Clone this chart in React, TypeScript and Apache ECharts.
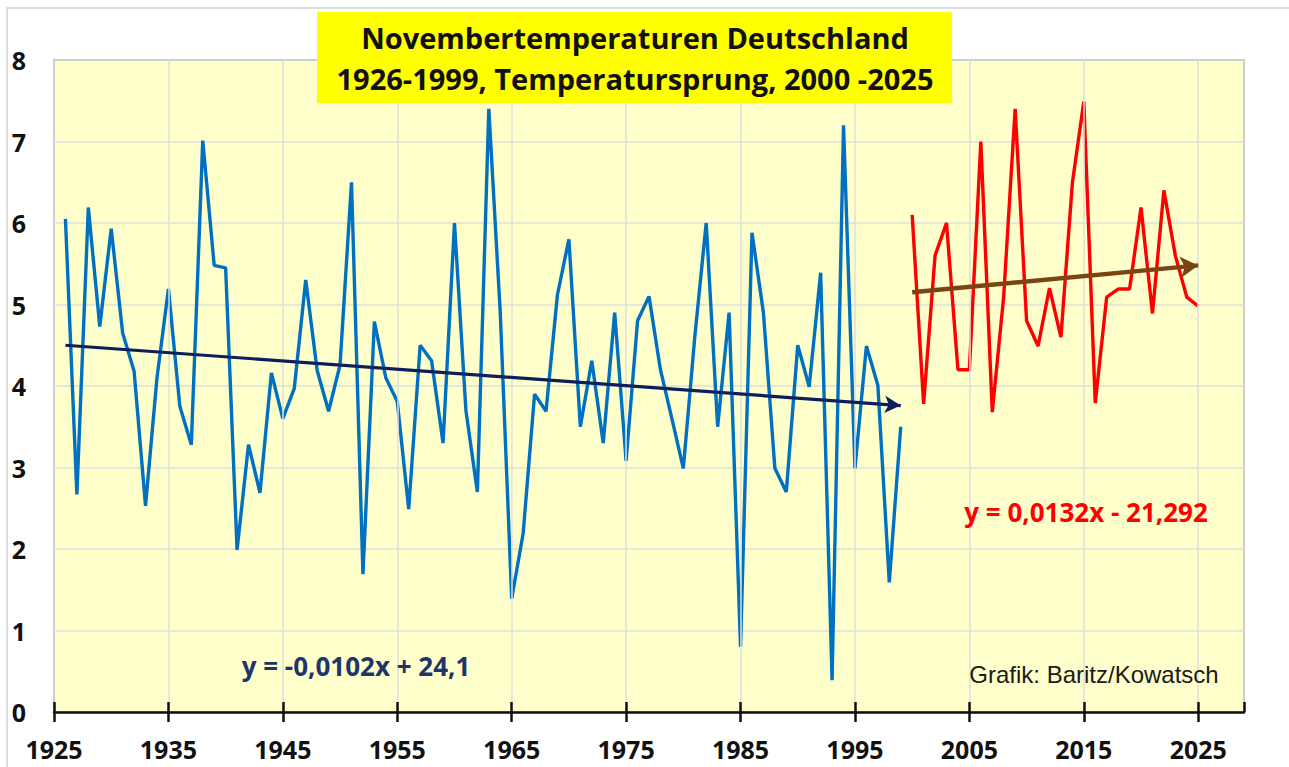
import React, { useEffect, useRef } from "react";
import * as echarts from "echarts";

// ---- data ----
const BASE_YEAR = 1925;
const AXIS_END_YEAR = 2029;
const X_TICK_STEP = 10;

const blueStartYear = 1926;
const blueValues = [
  6.05, 2.67, 6.19, 4.73, 5.93, 4.65, 4.18, 2.53, 4.1, 5.19,
  3.75, 3.28, 7.01, 5.48, 5.45, 1.99, 3.28, 2.69, 4.16, 3.6,
  3.97, 5.3, 4.19, 3.69, 4.26, 6.5, 1.69, 4.79, 4.1, 3.81,
  2.49, 4.5, 4.31, 3.3, 6.0, 3.7, 2.7, 7.4, 4.9, 1.39,
  2.19, 3.9, 3.69, 5.12, 5.8, 3.5, 4.31, 3.3, 4.9, 3.08,
  4.8, 5.1, 4.2, 3.6, 2.99, 4.6, 6.0, 3.5, 4.9, 0.8,
  5.88, 4.9, 2.99, 2.7, 4.5, 3.99, 5.39, 0.39, 7.2, 2.99,
  4.49, 4.01, 1.59, 3.5,
];

const redStartYear = 2000;
const redValues = [
  6.1, 3.78, 5.6, 6.0, 4.2, 4.2, 7.0, 3.68, 5.1, 7.4,
  4.8, 4.49, 5.2, 4.6, 6.49, 7.49, 3.79, 5.09, 5.19, 5.19,
  6.19, 4.89, 6.4, 5.6, 5.09, 4.98,
];

// trend line endpoints [year, value]
const blueTrend = [
  [1926, 4.5],
  [1999, 3.76],
];
const redTrend = [
  [2000, 5.15],
  [2025, 5.48],
];

const yMin = 0;
const yMax = 8;
const yStep = 1;

const titleLines = [
  "Novembertemperaturen Deutschland",
  "1926-1999, Temperatursprung, 2000 -2025",
];
const blueEquation = "y = -0,0102x + 24,1";
const redEquation = "y = 0,0132x - 21,292";
const creditText = "Grafik: Baritz/Kowatsch";

// ---- helpers ----
const toPoints = (start: number, values: number[]) =>
  values.map((v, i) => [start + i - BASE_YEAR, v]);
const trendToCoords = (t: number[][]) => [
  { coord: [t[0][0] - BASE_YEAR, t[0][1]], symbol: "none" },
  { coord: [t[1][0] - BASE_YEAR, t[1][1]], symbol: "arrow" },
];

const W = 1289;
const H = 767;
const FONT_BOLD = "'Open Sans', 'Noto Sans', sans-serif";

export default function App() {
  const ref = useRef<HTMLDivElement | null>(null);

  useEffect(() => {
    document.body.style.margin = "0";
    if (!ref.current) return;
    const chart = echarts.init(ref.current, undefined, { renderer: "svg" });

    const xAxisCommon = {
      type: "value" as const,
      min: 0,
      max: AXIS_END_YEAR - BASE_YEAR,
      interval: X_TICK_STEP,
      position: "bottom" as const,
    };

    const option: any = {
      animation: false,
      backgroundColor: "#ffffff",
      grid: {
        left: 54,
        right: 45,
        top: 60,
        bottom: 55,
        show: true,
        backgroundColor: "#FFFFCC",
        borderColor: "#7f7f7f",
        borderWidth: 1.5,
        containLabel: false,
        outerBoundsMode: "none",
      },
      xAxis: [
        {
          ...xAxisCommon,
          axisLine: { show: true, lineStyle: { color: "#111", width: 2.5 } },
          axisTick: { show: true, inside: false, length: 10, lineStyle: { color: "#111", width: 2.5 } },
          axisLabel: {
            show: true,
            margin: 24,
            color: "#111",
            fontSize: 25,
            fontWeight: "bold",
            fontFamily: FONT_BOLD,
            showMaxLabel: false,
            formatter: (v: number) => (v % X_TICK_STEP === 0 ? String(v + BASE_YEAR) : ""),
          },
          splitLine: { show: true, lineStyle: { color: "#dedede", width: 1.5 } },
          z: 5,
        },
        {
          ...xAxisCommon,
          axisLine: { show: false },
          axisTick: { show: true, inside: true, length: 10, lineStyle: { color: "#111", width: 2.5 } },
          axisLabel: { show: false },
          splitLine: { show: false },
          z: 5,
        },
      ],
      yAxis: {
        type: "value",
        min: yMin,
        max: yMax,
        interval: yStep,
        axisLine: { show: false },
        axisTick: { show: false },
        axisLabel: {
          margin: 28,
          color: "#111",
          fontSize: 25,
          fontWeight: "bold",
          fontFamily: FONT_BOLD,
        },
        splitLine: { show: true, lineStyle: { color: "#dedede", width: 1.5 } },
      },
      series: [
        {
          type: "line",
          data: toPoints(blueStartYear, blueValues),
          symbol: "none",
          lineStyle: { color: "#0070C0", width: 3.4 },
          z: 2,
        },
        {
          type: "line",
          data: toPoints(redStartYear, redValues),
          symbol: "none",
          lineStyle: { color: "#FF0000", width: 3.4 },
          z: 2,
        },
        {
          type: "line",
          data: [],
          z: 4,
          markLine: {
            silent: true,
            animation: false,
            symbol: ["none", "arrow"],
            symbolSize: [13, 16],
            label: { show: false },
            lineStyle: { color: "#0B1F5C", width: 3.2, type: "solid" },
            emphasis: { disabled: true },
            data: [trendToCoords(blueTrend)],
          },
        },
        {
          type: "line",
          data: [],
          z: 4,
          markLine: {
            silent: true,
            animation: false,
            symbol: ["none", "arrow"],
            symbolSize: [16, 18],
            label: { show: false },
            lineStyle: { color: "#7B4513", width: 4.5, type: "solid" },
            emphasis: { disabled: true },
            data: [trendToCoords(redTrend)],
          },
        },
      ],
      graphic: [
        {
          type: "rect",
          shape: { x: 7, y: 8, width: 1400, height: 900 },
          style: { fill: "none", stroke: "#d4d4d4", lineWidth: 1.5 },
          silent: true,
          z: 0,
        },
        {
          type: "rect",
          shape: { x: 317, y: 12, width: 635, height: 91 },
          style: { fill: "#FFFF00" },
          z: 10,
        },
        {
          type: "text",
          x: 635,
          y: 37,
          style: {
            text: titleLines[0],
            fill: "#111",
            font: `bold 29px ${FONT_BOLD}`,
            align: "center",
            verticalAlign: "middle",
          },
          z: 11,
        },
        {
          type: "text",
          x: 635,
          y: 78,
          style: {
            text: titleLines[1],
            fill: "#111",
            font: `bold 29px ${FONT_BOLD}`,
            align: "center",
            verticalAlign: "middle",
          },
          z: 11,
        },
        {
          type: "text",
          x: 356,
          y: 666,
          style: {
            text: blueEquation,
            fill: "#1F3468",
            font: `bold 26px ${FONT_BOLD}`,
            align: "center",
            verticalAlign: "middle",
          },
          z: 11,
        },
        {
          type: "text",
          x: 1086,
          y: 512,
          style: {
            text: redEquation,
            fill: "#FF0000",
            font: `bold 26px ${FONT_BOLD}`,
            align: "center",
            verticalAlign: "middle",
          },
          z: 11,
        },
        {
          type: "text",
          x: 1094,
          y: 674,
          style: {
            text: creditText,
            fill: "#1a1a1a",
            font: `24px 'Liberation Sans', Arial, sans-serif`,
            align: "center",
            verticalAlign: "middle",
          },
          z: 11,
        },
      ],
    };

    chart.setOption(option);
    return () => {
      chart.dispose();
    };
  }, []);

  return <div ref={ref} style={{ width: W, height: H }} />;
}
